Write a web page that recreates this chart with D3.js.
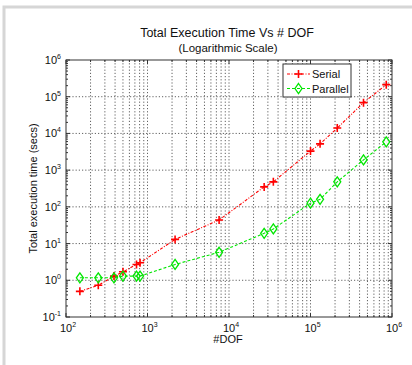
<!DOCTYPE html>
<html>
<head>
<meta charset="utf-8">
<script src="https://cdn.jsdelivr.net/npm/d3@7"></script>
<style>
  body { margin: 0; background: #fff; }
  svg { display: block; font-family: Arial, "Liberation Sans", sans-serif; }
</style>
</head>
<body>
<script>
const width = 412;
const height = 365;

// values
const dof      = [148, 249, 388, 500, 733, 810, 2180, 7560, 27000, 35000, 100000, 131000, 213000, 447000, 850000];
const serial   = [0.5, 0.73, 1.3, 1.7, 2.7, 3.0, 13, 44, 350, 480, 3300, 5200, 14000, 69000, 213000];
const parallel = [1.17, 1.17, 1.17, 1.3, 1.3, 1.3, 2.7, 5.8, 19, 25, 126, 160, 480, 1900, 5900];
const xDecades = [2, 3, 4, 5, 6];
const yDecades = [-1, 0, 1, 2, 3, 4, 5, 6];
const seriesNames = ["Serial", "Parallel"];

const m = {left: 66, right: 392, top: 60, bottom: 317};

const x = d3.scaleLog().domain([1e2, 1e6]).range([m.left, m.right]);
const y = d3.scaleLog().domain([1e-1, 1e6]).range([m.bottom, m.top]);

const svg = d3.select(document.body).append("svg")
    .attr("width", width)
    .attr("height", height);

// light frame around the picture
svg.append("path")
    .attr("d", `M4,${height} V7 H${width}`)
    .attr("fill", "none")
    .attr("stroke", "#d6d6d6")
    .attr("stroke-width", 3);

// minor values for grid
const minors = (lo, hi) => {
    let out = [];
    for (let e = lo; e < hi; e++)
        for (let k = 2; k <= 9; k++) out.push(k * Math.pow(10, e));
    return out;
};
const xMinor = minors(2, 6);
const yMinor = minors(-1, 6);

const grid = svg.append("g")
    .attr("stroke", "#333")
    .attr("stroke-width", 0.9)
    .attr("stroke-dasharray", "1.2,2")
    .attr("opacity", 0.85);

grid.selectAll("line.vx")
    .data(xMinor.concat(xDecades.slice(1, -1).map(e => Math.pow(10, e))))
    .join("line")
    .attr("x1", d => x(d)).attr("x2", d => x(d))
    .attr("y1", m.top).attr("y2", m.bottom);

grid.selectAll("line.hy")
    .data(yDecades.slice(1, -1).map(e => Math.pow(10, e)))
    .join("line")
    .attr("class", "hy")
    .attr("x1", m.left).attr("x2", m.right)
    .attr("y1", d => y(d)).attr("y2", d => y(d));

// axes with inward ticks, MATLAB style
const axisG = svg.append("g").attr("stroke", "#333").attr("stroke-width", 1);
const xTicks = xMinor.concat(xDecades.map(e => Math.pow(10, e)));
const yTicks = yMinor.concat(yDecades.map(e => Math.pow(10, e)));
const isMajor = d => Math.abs(Math.log10(d) - Math.round(Math.log10(d))) < 1e-9;
const tickLen = d => (isMajor(d) ? 4 : 2);

axisG.selectAll("line.xb").data(xTicks).join("line")
    .attr("x1", d => x(d)).attr("x2", d => x(d))
    .attr("y1", m.bottom).attr("y2", d => m.bottom - tickLen(d));
axisG.selectAll("line.xt").data(xTicks).join("line").attr("class", "xt")
    .attr("x1", d => x(d)).attr("x2", d => x(d))
    .attr("y1", m.top).attr("y2", d => m.top + tickLen(d));
axisG.selectAll("line.yl").data(yTicks).join("line").attr("class", "yl")
    .attr("y1", d => y(d)).attr("y2", d => y(d))
    .attr("x1", m.left).attr("x2", d => m.left + tickLen(d));
axisG.selectAll("line.yr").data(yTicks).join("line").attr("class", "yr")
    .attr("y1", d => y(d)).attr("y2", d => y(d))
    .attr("x1", m.right).attr("x2", d => m.right - tickLen(d));

svg.append("rect")
    .attr("x", m.left).attr("y", m.top)
    .attr("width", m.right - m.left).attr("height", m.bottom - m.top)
    .attr("fill", "none").attr("stroke", "#333").attr("stroke-width", 1);

// tick labels
function powLabel(g, e) {
    g.append("tspan").text("10");
    g.append("tspan").attr("dy", -5).attr("font-size", 7).text(e);
}
svg.append("g").selectAll("text").data(xDecades).join("text")
    .attr("x", d => x(Math.pow(10, d)) + 2)
    .attr("y", m.bottom + 15)
    .attr("text-anchor", "middle")
    .attr("font-size", 11)
    .attr("fill", "#111")
    .each(function(d) { powLabel(d3.select(this), d); });

svg.append("g").selectAll("text").data(yDecades).join("text")
    .attr("x", m.left - 5)
    .attr("y", d => y(Math.pow(10, d)) + 4)
    .attr("text-anchor", "end")
    .attr("font-size", 11)
    .attr("fill", "#111")
    .each(function(d) { powLabel(d3.select(this), d); });

// titles
svg.append("text").attr("x", 227).attr("y", 37).attr("text-anchor", "middle")
    .attr("font-size", 12.5).attr("fill", "#111").text("Total Execution Time Vs # DOF");
svg.append("text").attr("x", 228).attr("y", 52).attr("text-anchor", "middle")
    .attr("font-size", 11.5).attr("fill", "#111").text("(Logarithmic Scale)");
svg.append("text").attr("x", 228).attr("y", 343).attr("text-anchor", "middle")
    .attr("font-size", 11).attr("fill", "#111").text("#DOF");
svg.append("text")
    .attr("transform", `translate(37,${(m.top + m.bottom) / 2}) rotate(-90)`)
    .attr("text-anchor", "middle")
    .attr("font-size", 11).attr("fill", "#111")
    .text("Total execution time (secs)");

// series
const line = d3.line().x(d => x(d[0])).y(d => y(d[1]));
const series = [
    {name: seriesNames[0], color: "#ff0000", dash: "3,1.5,1,1.5", vals: serial, marker: "plus"},
    {name: seriesNames[1], color: "#00e600", dash: "3,2", vals: parallel, marker: "diamond"}
];

function drawMarker(g, kind, color) {
    if (kind === "plus") {
        g.append("path").attr("d", "M-4,0H4M0,-4V4")
            .attr("stroke", color).attr("stroke-width", 1.6).attr("fill", "none");
    } else {
        g.append("path").attr("d", "M0,-5L3.5,0L0,5L-3.5,0Z")
            .attr("stroke", color).attr("stroke-width", 1.3).attr("fill", "none");
    }
}

series.forEach(s => {
    const pts = d3.zip(dof, s.vals);
    svg.append("path").datum(pts)
        .attr("d", line)
        .attr("fill", "none")
        .attr("stroke", s.color)
        .attr("stroke-width", 1.1)
        .attr("stroke-dasharray", s.dash);
    svg.append("g").selectAll("g").data(pts).join("g")
        .attr("transform", d => `translate(${x(d[0])},${y(d[1])})`)
        .each(function() { drawMarker(d3.select(this), s.marker, s.color); });
});

// legend
const lg = svg.append("g").attr("transform", "translate(283,64)");
lg.append("rect").attr("width", 68).attr("height", 33)
    .attr("fill", "#fff").attr("stroke", "#333").attr("stroke-width", 1);
series.forEach((s, i) => {
    const yy = 10 + i * 14.5;
    lg.append("line").attr("x1", 4).attr("x2", 27).attr("y1", yy).attr("y2", yy)
        .attr("stroke", s.color).attr("stroke-width", 1.1).attr("stroke-dasharray", s.dash);
    drawMarker(lg.append("g").attr("transform", `translate(15.5,${yy})`), s.marker, s.color);
    lg.append("text").attr("x", 29).attr("y", yy + 4)
        .attr("font-size", 11).attr("fill", "#111").text(s.name);
});
</script>
</body>
</html>
